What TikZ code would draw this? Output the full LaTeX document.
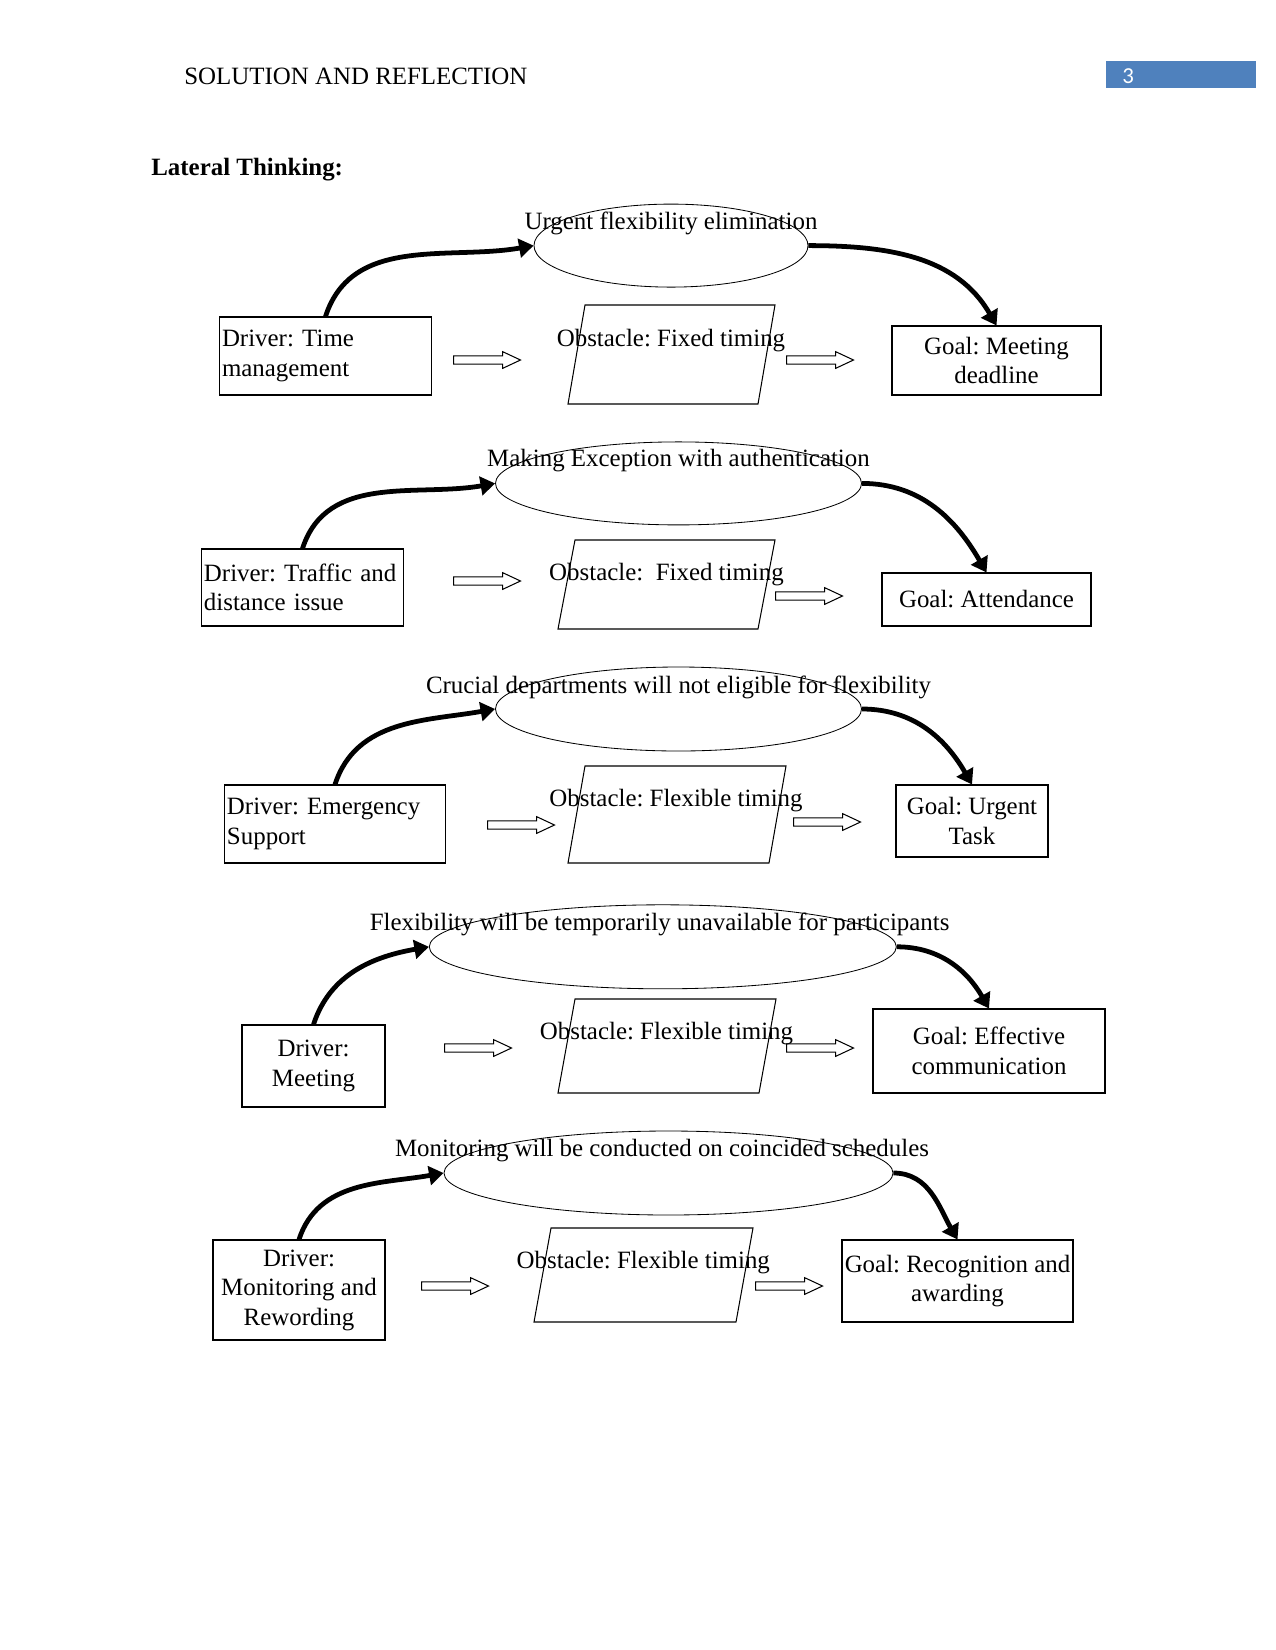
\documentclass[tikz,border=0pt]{standalone}
\usepackage{fontspec}
\setmainfont{Liberation Serif}
\newfontfamily\pagenofont{Carlito}
\usetikzlibrary{arrows.meta,shapes.geometric,shapes.arrows}
\newlength\px
\setlength\px{0.4818pt}
\definecolor{pageblue}{RGB}{79,129,189}
\newcommand\docfont{\fontsize{12pt}{14.2pt}\selectfont}
\frenchspacing

\begin{document}
\begin{tikzpicture}[x=0.16933mm,y=-0.16933mm]
\tikzset{
  every node/.style={font=\docfont},
  box/.style={draw,line width=0.5pt,inner sep=1pt},
  idea/.style={draw,ellipse,line width=0.4pt,inner sep=0pt},
  hurdle/.style={draw,line width=0.5pt,line join=miter},
  hollow/.style={draw,single arrow,line width=0.5pt,anchor=tail,inner sep=0pt,
    text height=3.5pt,text depth=0pt,minimum height=67*\px,
    single arrow head extend=2pt,single arrow tip angle=50},
  swing/.style={line width=2.3pt,-{Triangle[length=7pt,width=9pt]}}
}
\useasboundingbox (0,0) rectangle (1275,1650);

% page head
\node[anchor=base west] (head) at (177,84) {SOLUTION AND REFLECTION};
\node[fill=pageblue,minimum width=150*\px,minimum height=27*\px,inner sep=0pt] (pgbar) at (1181,74.5) {};
\node[anchor=base west,text=white,font=\pagenofont\fontsize{11pt}{13pt}\selectfont] (pgno) at (1115,83) {3};
\node[anchor=base west,font=\docfont\bfseries] (title) at (144,175) {Lateral Thinking:};

% row 1
\node[idea,minimum width=274*\px,minimum height=83*\px] (e1) at (671,245.6) {};
\node (l1) at (671,223) {Urgent flexibility elimination};
\node[box,align=left,text width=207*\px,minimum height=78*\px] (d1) at (325.5,356) {Driver: Time\\management};
\draw[hurdle] (568,404) -- ++(190,0) -- ++(17,-99) -- ++(-190,0) -- cycle;
\node (o1) at (671,341) {Obstacle: Fixed timing};
\node[hollow] (a1) at (453,360) {};
\node[hollow] (b1) at (786,360) {};
\node[box,align=center,minimum width=209*\px,minimum height=69*\px] (g1) at (996.5,360.5) {Goal: Meeting\\deadline};
\draw[swing] (d1.north) to[out=72,in=190] (e1.west);
\draw[swing] (e1.east) to[out=0,in=120] (g1.north);

% row 2
\node[idea,minimum width=366*\px,minimum height=83*\px] (e2) at (678.5,483.4) {};
\node (l2) at (678.5,460.6) {Making Exception with authentication};
\node[box,align=left,text width=197*\px,minimum height=77*\px] (d2) at (302.5,587.5) {Driver: Traffic and\\distance issue};
\draw[hurdle] (558,629) -- ++(200,0) -- ++(17,-89) -- ++(-200,0) -- cycle;
\node (o2) at (666.5,575) {Obstacle:\ \ Fixed timing};
\node[hollow] (a2) at (453,581) {};
\node[hollow] (b2) at (775,596) {};
\node[box,align=center,minimum width=209*\px,minimum height=53*\px] (g2) at (986.5,599.5) {Goal: Attendance};
\draw[swing] (d2.north) to[out=72,in=190] (e2.west);
\draw[swing] (e2.east) to[out=0,in=120] (g2.north);

% row 3
\node[idea,minimum width=366*\px,minimum height=84*\px] (e3) at (678.5,709) {};
\node (l3) at (678.5,687) {Crucial departments will not eligible for flexibility};
\node[box,align=left,text width=216*\px,minimum height=78*\px] (d3) at (335,824) {Driver: Emergency\\Support};
\draw[hurdle] (568,863) -- ++(201,0) -- ++(17,-97) -- ++(-201,0) -- cycle;
\node (o3) at (676,801) {Obstacle: Flexible timing};
\node[hollow] (a3) at (487,825) {};
\node[hollow] (b3) at (793,822) {};
\node[box,align=center,minimum width=152*\px,minimum height=72*\px] (g3) at (972,821) {Goal: Urgent\\Task};
\draw[swing] (d3.north) to[out=72,in=190] (e3.west);
\draw[swing] (e3.east) to[out=0,in=120] (g3.north);

% row 4
\node[idea,minimum width=467*\px,minimum height=84*\px] (e4) at (662.8,946.8) {};
\node (l4) at (659.6,924.5) {Flexibility will be temporarily unavailable for participants};
\node[box,align=center,minimum width=143*\px,minimum height=82*\px] (d4) at (313.5,1066) {Driver:\\Meeting};
\draw[hurdle] (558,1093) -- ++(201,0) -- ++(17,-94) -- ++(-201,0) -- cycle;
\node (o4) at (666.5,1034) {Obstacle: Flexible timing};
\node[hollow] (a4) at (444,1048) {};
\node[hollow] (b4) at (786,1048) {};
\node[box,align=center,minimum width=232*\px,minimum height=84*\px] (g4) at (989,1051) {Goal: Effective\\communication};
\draw[swing] (d4.north) to[out=72,in=190] (e4.west);
\draw[swing] (e4.east) to[out=0,in=120] (g4.north);

% row 5
\node[idea,minimum width=449*\px,minimum height=84*\px] (e5) at (668.5,1173) {};
\node (l5) at (662,1151) {Monitoring will be conducted on coincided schedules};
\node[box,align=center,minimum width=172*\px,minimum height=100*\px] (d5) at (299,1290) {Driver:\\Monitoring and\\Rewording};
\draw[hurdle] (534,1322) -- ++(202,0) -- ++(17,-94) -- ++(-202,0) -- cycle;
\node (o5) at (643.3,1263) {Obstacle: Flexible timing};
\node[hollow] (a5) at (421,1286) {};
\node[hollow] (b5) at (755,1286) {};
\node[box,align=center,minimum width=231*\px,minimum height=82*\px] (g5) at (957.5,1281) {Goal: Recognition and\\awarding};
\draw[swing] (d5.north) to[out=72,in=190] (e5.west);
\draw[swing] (e5.east) to[out=0,in=120] (g5.north);
\end{tikzpicture}
\end{document}
